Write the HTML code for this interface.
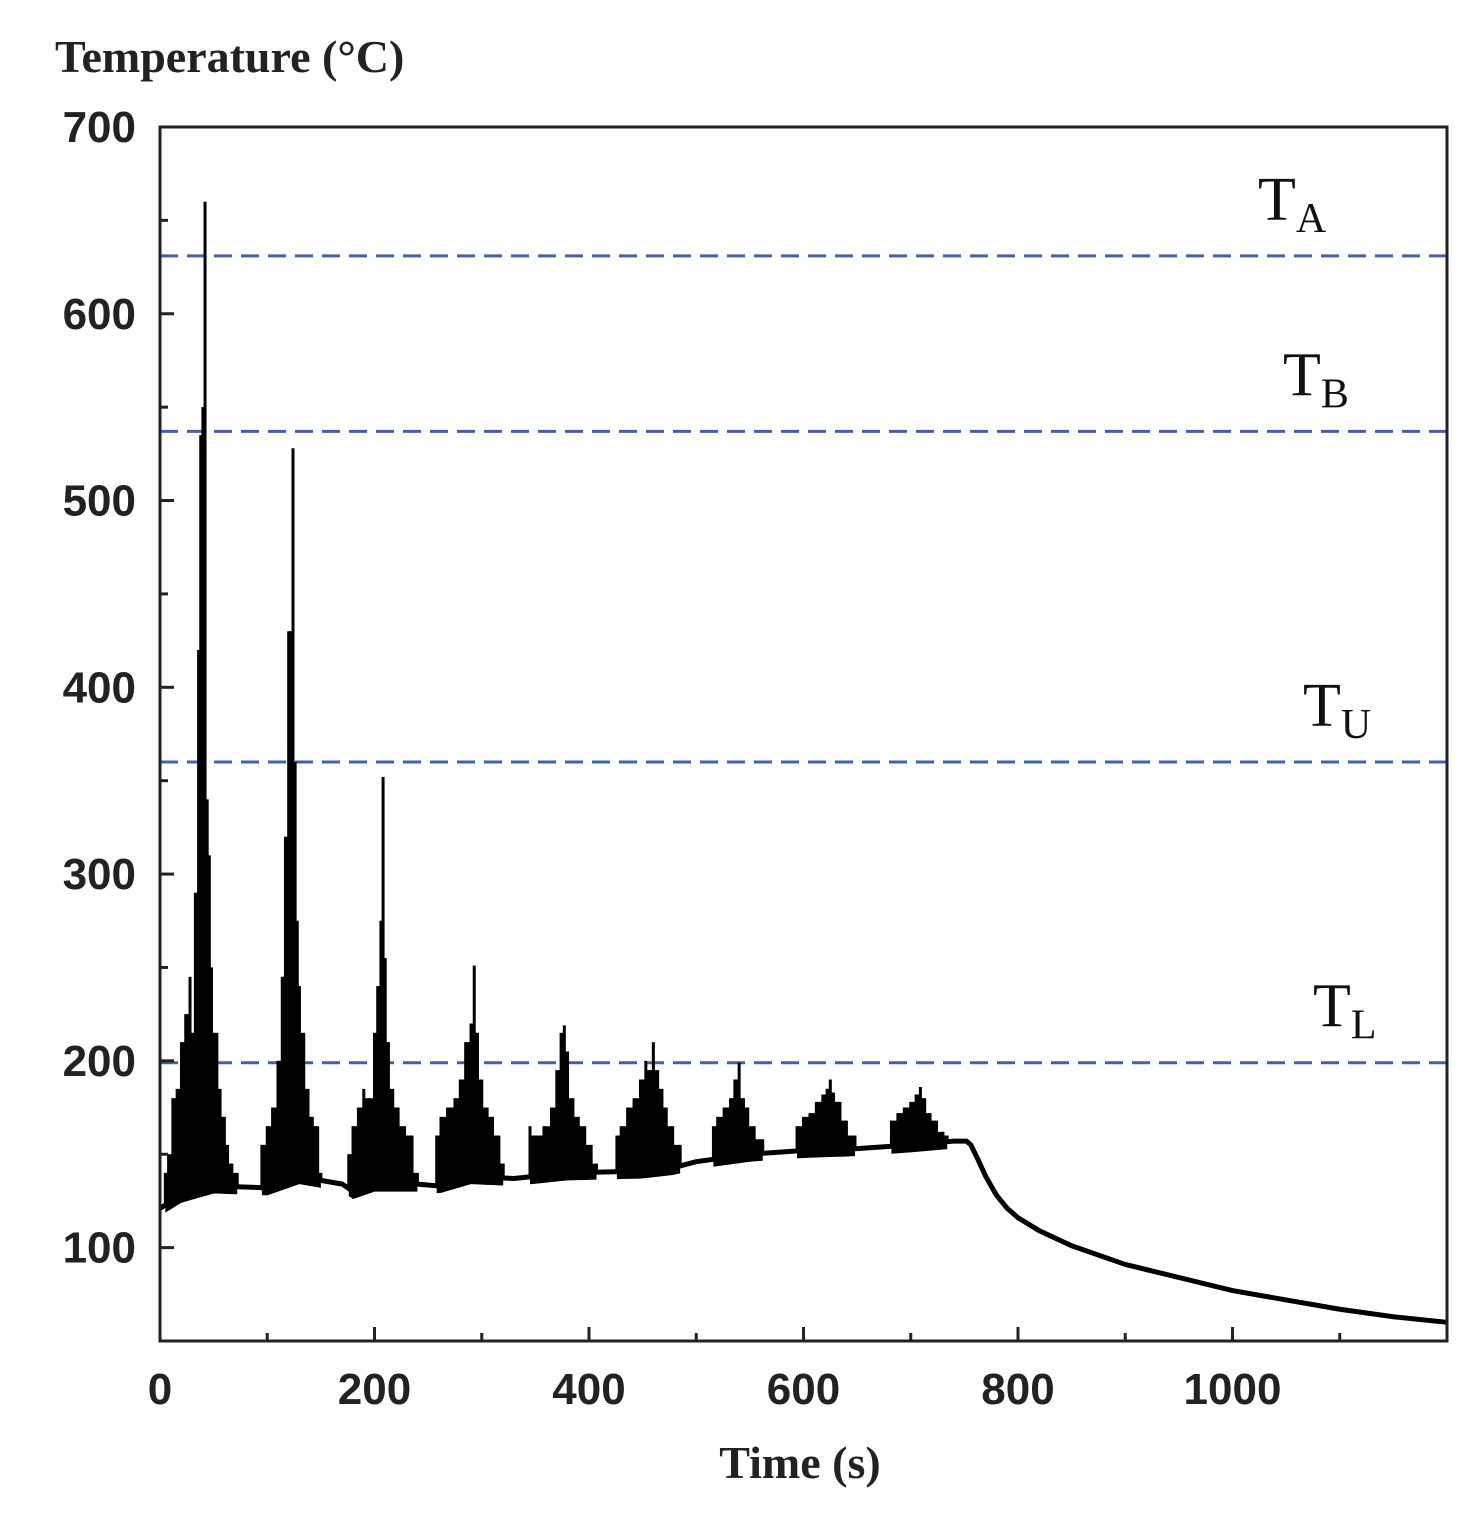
<!DOCTYPE html>
<html><head><meta charset="utf-8"><style>
html,body{margin:0;padding:0;background:#fff;}
svg{display:block;}
</style></head><body>
<svg id="chart" width="1476" height="1526" viewBox="0 0 1476 1526" xmlns="http://www.w3.org/2000/svg">
<text x="55" y="72" font-family="Liberation Serif, serif" font-weight="bold" font-size="46" fill="#222">Temperature (°C)</text>
<text x="800" y="1478" text-anchor="middle" font-family="Liberation Serif, serif" font-weight="bold" font-size="46" fill="#222">Time (s)</text>
<g id="plot"></g>
</svg>
<script>
const xTicks=[0,200,400,600,800,1000];
const yTicks=[100,200,300,400,500,600,700];
const refNames=['A','B','U','L'];
const refValues=[631,537,360,199];
const baseT=[0,20,50,100,130,170,180,200,240,260,290,330,380,450,480,500,550,600,650,700,740,752,756,762,770,780,790,800,820,850,900,950,1000,1050,1100,1150,1200];
const baseV=[121,128,133,132,138,134,130,134,134,133,138,137,140,141,143,146,150,152,153,155,157,157,155,148,138,128,121,116,109,101,91,84,77,72,67,63,60];
const burst1=[[5,140],[8,150],[12,180],[16,185],[20,210],[24,225],[28,245],[30,215],[33,290],[36,420],[38,535],[40,550],[42,660],[44,340],[46,310],[48,250],[50,215],[53,215],[56,185],[60,170],[63,155],[67,145],[72,140]];
const burst2=[[95,155],[100,165],[105,175],[110,200],[114,245],[117,320],[120,430],[122,430],[124,528],[126,360],[128,275],[130,240],[134,215],[138,185],[142,170],[147,165],[150,140]];
const burst3=[[176,150],[180,165],[185,175],[190,185],[195,180],[200,215],[203,240],[206,275],[208,352],[210,255],[213,210],[217,185],[222,175],[228,165],[235,160],[240,140]];
const burst4=[[258,160],[262,170],[268,175],[275,180],[280,190],[285,210],[290,220],[293,251],[296,215],[300,190],[305,175],[310,170],[316,160],[320,145]];
const burst5=[[345,165],[350,160],[358,165],[365,175],[370,195],[374,215],[377,219],[380,205],[385,180],[390,170],[396,165],[402,155],[407,145]];
const burst6=[[426,160],[430,165],[436,175],[442,180],[448,190],[453,200],[456,195],[460,210],[464,195],[468,185],[472,175],[478,165],[485,155]];
const burst7=[[516,165],[520,170],[526,175],[532,180],[536,190],[540,199],[544,180],[548,175],[554,165],[562,158]];
const burst8=[[594,165],[600,170],[606,172],[612,178],[618,182],[622,185],[625,190],[628,183],[634,178],[640,168],[648,160]];
const burst9=[[682,168],[688,172],[694,175],[700,178],[705,182],[709,186],[713,180],[718,172],[724,168],[730,162],[734,160]];
const bursts=[burst1,burst2,burst3,burst4,burst5,burst6,burst7,burst8,burst9];

const L=160,R=1447,T=127,B=1341,X0=0,X1=1200,Y0=50,Y1=700;
const sx=t=>L+(t-X0)/(X1-X0)*(R-L);
const sy=v=>B-(v-Y0)/(Y1-Y0)*(B-T);
const NS='http://www.w3.org/2000/svg';
const g=document.getElementById('plot');
function mk(tag,attrs){const e=document.createElementNS(NS,tag);for(const k in attrs)e.setAttribute(k,attrs[k]);g.appendChild(e);return e;}
function base(t){for(let i=1;i<baseT.length;i++){if(t<=baseT[i]){const f=(t-baseT[i-1])/(baseT[i]-baseT[i-1]);return baseV[i-1]+f*(baseV[i]-baseV[i-1]);}}return baseV[baseV.length-1];}

refValues.forEach((v,i)=>{
  const l=mk('line',{x1:L,x2:R,y1:sy(v),y2:sy(v),stroke:'#4060b0','stroke-width':3,'stroke-dasharray':'18 9'});
  
  
});
const labelX=[1258,1283,1303,1313];
refValues.forEach((v,i)=>{
  const t=mk('text',{x:labelX[i],y:sy(v)-36,'font-family':'Liberation Serif, serif','font-size':62,fill:'#111'});
  
  
  t.innerHTML='T<tspan font-size="42" dy="12">'+refNames[i]+'</tspan>';
});

bursts.forEach((b,bi)=>{
  let d='M'+sx(b[0][0])+','+sy(base(b[0][0])-2);
  for(let i=0;i<b.length-1;i++){
    const h=Math.min(b[i][1],b[i+1][1]);
    d+=' L'+sx(b[i][0])+','+sy(h)+' L'+sx(b[i+1][0])+','+sy(h);
  }
  const last=b[b.length-1][0];
  d+=' L'+sx(last)+','+sy(base(last)-2);
  for(let i=b.length-1;i>=0;i--){d+=' L'+sx(b[i][0])+','+sy(base(b[i][0])-4);}
  d+='Z';
  const p=mk('path',{d:d,fill:'#000'});
  
  
  b.forEach(pt=>{
    const r=mk('rect',{x:sx(pt[0])-1.5,y:sy(pt[1]),width:3,height:Math.max(0,sy(base(pt[0]))-sy(pt[1])),fill:'#000'});
    
    
  });
});

let bd='';
baseT.forEach((t,i)=>{bd+=(i?' L':'M')+sx(t)+','+sy(baseV[i]);});
const bl=mk('path',{d:bd,fill:'none',stroke:'#000','stroke-width':5,'stroke-linejoin':'round'});



const fr=mk('rect',{x:L,y:T,width:R-L,height:B-T,fill:'none',stroke:'#222','stroke-width':3});



for(let v=Y0;v<=Y1;v+=50){
  const major=v%100===0;
  const tk=mk('line',{x1:L,x2:L+(major?14:8),y1:sy(v),y2:sy(v),stroke:'#222','stroke-width':3});
  
  
}
for(let t=100;t<X1;t+=100){
  const major=t%200===0;
  const tk=mk('line',{x1:sx(t),x2:sx(t),y1:B,y2:B-(major?14:8),stroke:'#222','stroke-width':3});
  
  
}
yTicks.forEach(v=>{
  const t=mk('text',{x:136,y:sy(v)+15,'text-anchor':'end','font-family':'Liberation Sans, sans-serif','font-weight':'bold','font-size':44,fill:'#222'});
  
  
  t.textContent=v;
});
xTicks.forEach(v=>{
  const t=mk('text',{x:sx(v),y:1404,'text-anchor':'middle','font-family':'Liberation Sans, sans-serif','font-weight':'bold','font-size':44,fill:'#222'});
  
  
  t.textContent=v;
});
</script>
</body></html>
